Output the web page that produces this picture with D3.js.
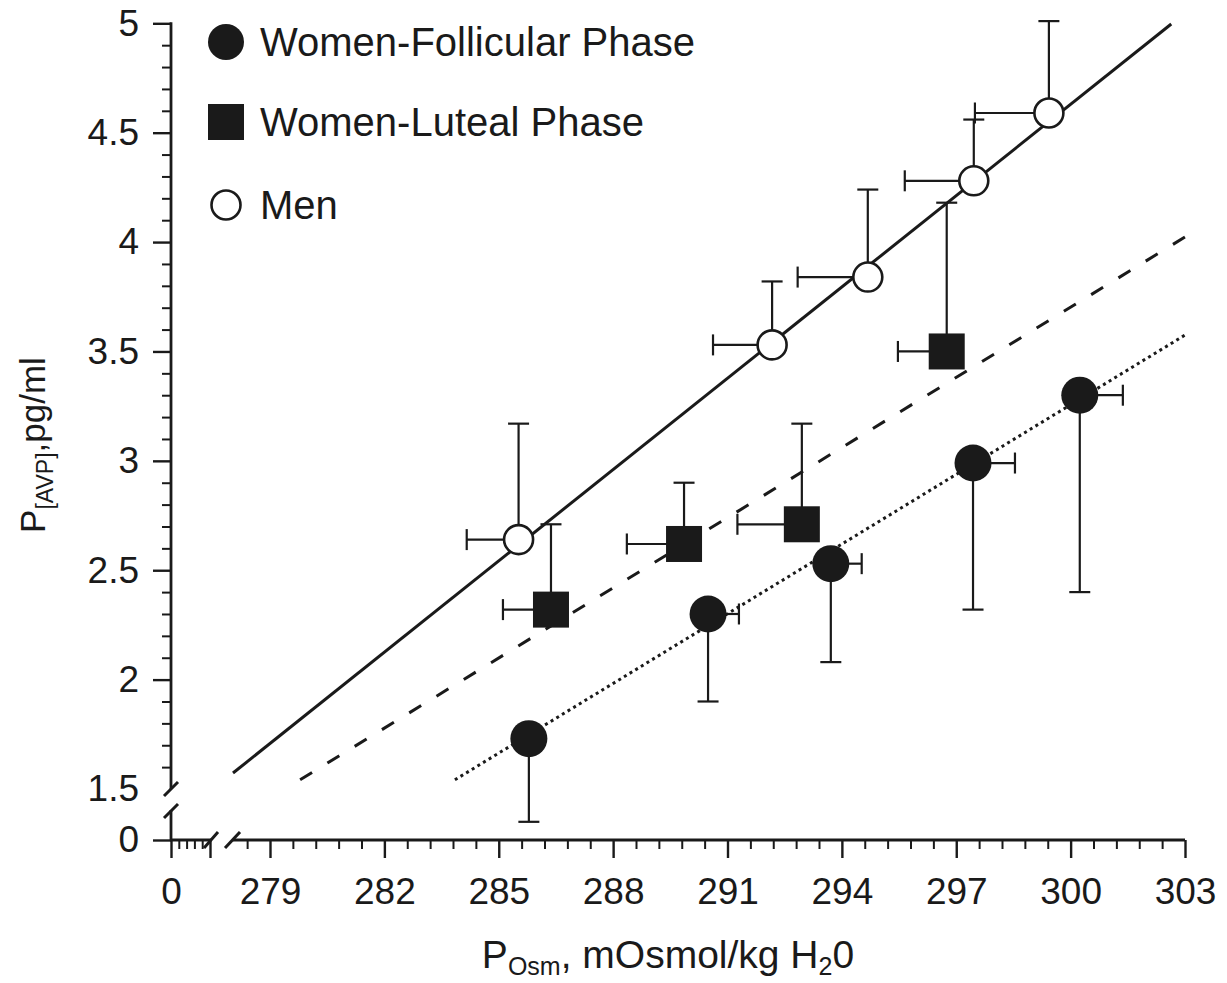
<!DOCTYPE html>
<html>
<head>
<meta charset="utf-8">
<script src="https://cdn.jsdelivr.net/npm/d3@7"></script>
<style>
  body { margin: 0; background: #fff; }
  text { font-family: "Liberation Sans", Arial, sans-serif; fill: #1a1a1a; }
</style>
</head>
<body>
<svg width="1227" height="983"></svg>
<script>
// tick values
var xMajors = [279, 282, 285, 288, 291, 294, 297, 300, 303];
var yMajors = [1.5, 2, 2.5, 3, 3.5, 4, 4.5, 5];

// Women - follicular phase (error bars go down / right)
var follX = [285.79, 290.49, 293.71, 297.44, 300.24];
var follY = [1.73, 2.30, 2.53, 2.99, 3.30];
var follXErr = [0, 0.81, 0.81, 1.10, 1.13];
var follYErr = [0.38, 0.40, 0.45, 0.67, 0.90];

// Women - luteal phase (error bars go up / left)
var lutX = [286.37, 289.86, 292.95, 296.75];
var lutY = [2.32, 2.62, 2.71, 3.50];
var lutXErr = [1.26, 1.50, 1.69, 1.28];
var lutYErr = [0.39, 0.28, 0.46, 0.68];

// Men (error bars go up / left)
var menX = [285.52, 292.17, 294.68, 297.46, 299.43];
var menY = [2.64, 3.53, 3.84, 4.28, 4.59];
var menXErr = [1.36, 1.55, 1.84, 1.81, 1.94];
var menYErr = [0.53, 0.29, 0.40, 0.28, 0.42];

// regression lines, end points
var menFitX = [278.03, 302.64], menFitY = [1.573, 4.997];
var lutFitX = [279.79, 303], lutFitY = [1.542, 4.023];
var follFitX = [283.85, 303], follFitY = [1.542, 3.575];

var ink = "#1a1a1a";
var svg = d3.select("svg");

var x = d3.scaleLinear().domain([279, 303]).range([270, 1185]);
var y = d3.scaleLinear().domain([1.5, 5]).range([789, 23.3]);
// the short segments below the axis breaks
var xLow = d3.scaleLinear().domain([0, 1]).range([171, 210]);
var yLow = d3.scaleLinear().domain([0, 0.1]).range([840, 818]);

var x0 = 171, y0 = 840;

// ---- axes ----
function styleAxis(g, fs) {
  g.select(".domain").remove();
  g.selectAll("line").attr("stroke", ink).attr("stroke-width", 2.4);
  g.selectAll("text").style("font-size", fs + "px").attr("fill", ink);
}

// y main majors
var yAx = svg.append("g").attr("transform", "translate(" + x0 + ",0)")
  .call(d3.axisLeft(y).tickValues(yMajors).tickSize(18).tickPadding(14).tickFormat(d3.format("")))
  .call(styleAxis, 37);
yAx.selectAll(".tick").filter(function(d) { return d === 1.5; }).select("line").remove();

// y minors
var yMinors = [];
for (var v = 16; v < 50; v++) if (v % 5 !== 0) yMinors.push(v / 10);
svg.append("g").attr("transform", "translate(" + x0 + ",0)")
  .call(d3.axisLeft(y).tickValues(yMinors).tickSize(9).tickFormat(""))
  .call(styleAxis, 10)
  .selectAll("line").attr("stroke-width", 2);

// y low segment: 0
svg.append("g").attr("transform", "translate(" + x0 + ",0)")
  .call(d3.axisLeft(yLow).tickValues([0]).tickSize(18).tickPadding(14).tickFormat(d3.format("")))
  .call(styleAxis, 37);

// x main majors
svg.append("g").attr("transform", "translate(0," + y0 + ")")
  .call(d3.axisBottom(x).tickValues(xMajors).tickSize(18).tickPadding(20).tickFormat(d3.format("")))
  .call(styleAxis, 37);

// x minors (every 0.6)
var xMinors = [278.4];
xMajors.slice(0, -1).forEach(function(m) {
  for (var k = 1; k < 5; k++) xMinors.push(m + 0.6 * k);
});
svg.append("g").attr("transform", "translate(0," + y0 + ")")
  .call(d3.axisBottom(x).tickValues(xMinors).tickSize(9).tickFormat(""))
  .call(styleAxis, 10)
  .selectAll("line").attr("stroke-width", 2);

// x low segment
svg.append("g").attr("transform", "translate(0," + y0 + ")")
  .call(d3.axisBottom(xLow).tickValues([0, 1]).tickSize(18).tickPadding(20)
    .tickFormat(function(d) { return d === 0 ? "0" : ""; }))
  .call(styleAxis, 37);
svg.append("g").attr("transform", "translate(0," + y0 + ")")
  .call(d3.axisBottom(xLow).tickValues([0.2, 0.4, 0.6, 0.8]).tickSize(9).tickFormat(""))
  .call(styleAxis, 10)
  .selectAll("line").attr("stroke-width", 2);

// axis lines with breaks
var axisLines = [
  [[x0, y(5) - 1], [x0, 789]],
  [[x0, 810], [x0, y0 + 1]],
  [[x0 - 1, y0], [211, y0]],
  [[233, y0], [x(303), y0]]
];
svg.append("g").selectAll("path").data(axisLines).join("path")
  .attr("d", d3.line())
  .attr("fill", "none").attr("stroke", ink).attr("stroke-width", 2.8);

var slashes = [
  [[164, 796], [178, 782]],
  [[164, 818], [178, 804]],
  [[204, 848], [218, 832]],
  [[225, 848], [240, 832]]
];
svg.append("g").selectAll("path").data(slashes).join("path")
  .attr("d", d3.line())
  .attr("fill", "none").attr("stroke", ink).attr("stroke-width", 3);

// axis titles
var xt = svg.append("text").attr("x", 668).attr("y", 968)
  .attr("text-anchor", "middle").style("font-size", "39px");
xt.append("tspan").text("P");
xt.append("tspan").attr("dy", 7).style("font-size", "25px").text("Osm");
xt.append("tspan").attr("dy", -7).text(", mOsmol/kg H");
xt.append("tspan").attr("dy", 7).style("font-size", "25px").text("2");
xt.append("tspan").attr("dy", -7).text("0");

var yt = svg.append("text").attr("transform", "translate(45,445) rotate(-90)")
  .attr("text-anchor", "middle").style("font-size", "35px");
yt.append("tspan").text("P");
yt.append("tspan").attr("dy", 8).style("font-size", "23px").text("[AVP]");
yt.append("tspan").attr("dy", -8).text(",pg/ml");

// ---- regression lines ----
var fits = [
  { xs: menFitX, ys: menFitY, dash: null },
  { xs: lutFitX, ys: lutFitY, dash: "14,18" },
  { xs: follFitX, ys: follFitY, dash: "3,3.6" }
];
svg.append("g").selectAll("line").data(fits).join("line")
  .attr("x1", function(d) { return x(d.xs[0]); })
  .attr("y1", function(d) { return y(d.ys[0]); })
  .attr("x2", function(d) { return x(d.xs[1]); })
  .attr("y2", function(d) { return y(d.ys[1]); })
  .attr("stroke", ink).attr("stroke-width", 3)
  .attr("stroke-dasharray", function(d) { return d.dash; });

// ---- error bars ----
var cap = 10.5;
function errorBars(xs, ys, xe, ye, dir) {
  // dir = +1: down and right, -1: up and left
  var g = svg.append("g").attr("stroke", ink).attr("stroke-width", 2.2).attr("fill", "none");
  xs.forEach(function(xv, i) {
    var px = x(xv), py = y(ys[i]);
    if (ye[i] > 0) {
      var ey = y(ys[i] - dir * ye[i]);
      g.append("line").attr("x1", px).attr("x2", px).attr("y1", py).attr("y2", ey);
      g.append("line").attr("x1", px - cap).attr("x2", px + cap).attr("y1", ey).attr("y2", ey);
    }
    if (xe[i] > 0) {
      var ex = x(xv + dir * xe[i]);
      g.append("line").attr("x1", px).attr("x2", ex).attr("y1", py).attr("y2", py);
      g.append("line").attr("x1", ex).attr("x2", ex).attr("y1", py - cap).attr("y2", py + cap);
    }
  });
}
errorBars(follX, follY, follXErr, follYErr, 1);
errorBars(lutX, lutY, lutXErr, lutYErr, -1);
errorBars(menX, menY, menXErr, menYErr, -1);

// ---- markers ----
svg.append("g").selectAll("circle").data(follX).join("circle")
  .attr("cx", function(d) { return x(d); })
  .attr("cy", function(d, i) { return y(follY[i]); })
  .attr("r", 18.5).attr("fill", ink);

svg.append("g").selectAll("rect").data(lutX).join("rect")
  .attr("x", function(d) { return x(d) - 18; })
  .attr("y", function(d, i) { return y(lutY[i]) - 18; })
  .attr("width", 36).attr("height", 36).attr("fill", ink);

svg.append("g").selectAll("circle").data(menX).join("circle")
  .attr("cx", function(d) { return x(d); })
  .attr("cy", function(d, i) { return y(menY[i]); })
  .attr("r", 14.5).attr("fill", "#fff").attr("stroke", ink).attr("stroke-width", 2.6);

// ---- legend ----
var legendNames = ["Women-Follicular Phase", "Women-Luteal Phase", "Men"];
var legendY = [42, 122, 205];
var lg = svg.append("g");
lg.append("circle").attr("cx", 226).attr("cy", legendY[0]).attr("r", 18).attr("fill", ink);
lg.append("rect").attr("x", 208).attr("y", legendY[1] - 18).attr("width", 36).attr("height", 36).attr("fill", ink);
lg.append("circle").attr("cx", 226).attr("cy", legendY[2]).attr("r", 14.5)
  .attr("fill", "#fff").attr("stroke", ink).attr("stroke-width", 2.6);
lg.selectAll("text").data(legendNames).join("text")
  .attr("x", 260)
  .attr("y", function(d, i) { return legendY[i]; })
  .attr("dy", "0.36em")
  .style("font-size", "40px")
  .text(function(d) { return d; });
</script>
</body>
</html>
